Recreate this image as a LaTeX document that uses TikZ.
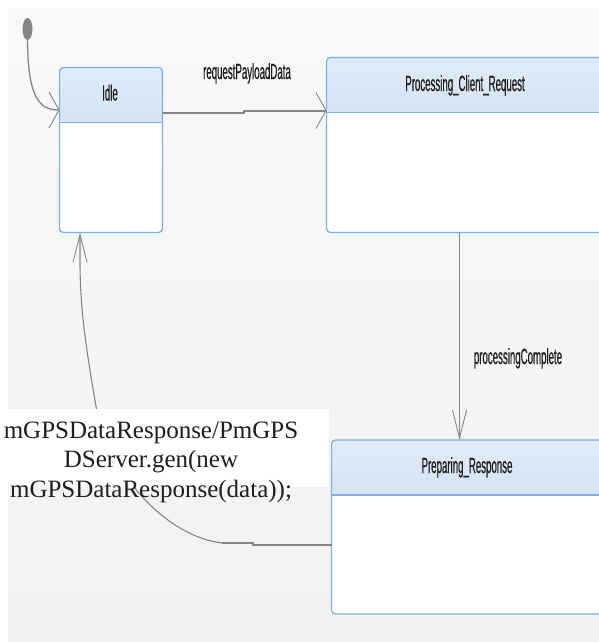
\documentclass[tikz,border=0pt]{standalone}
\usepackage{fontspec}
\setmainfont{Liberation Serif}
\newfontfamily\uifont[FakeStretch=0.44,FakeBold=0.5]{Liberation Sans}
\usetikzlibrary{arrows.meta,shapes.geometric,calc}
\definecolor{canvastop}{HTML}{F8F8F8}
\definecolor{canvasbot}{HTML}{F1F2F2}
\definecolor{boxline}{HTML}{7EB0E4}
\definecolor{hdtop}{HTML}{E0EBF8}
\definecolor{hdbot}{HTML}{BCD2EB}
\definecolor{wirecol}{HTML}{858585}
\definecolor{ink}{HTML}{1E1E1E}
\begin{document}
\begin{tikzpicture}[x=1pt,y=-1pt,
  statebox/.style={draw=boxline, line width=1.3pt, fill=white, rounded corners=4pt,
    anchor=north west, inner sep=0pt, outer sep=0pt,
    path picture={
      \shade[top color=hdtop,bottom color=hdbot]
        (path picture bounding box.north west) rectangle
        ([yshift=-55pt]path picture bounding box.north east);
      \draw[boxline, line width=1.6pt]
        ([yshift=-55pt]path picture bounding box.north west) --
        ([yshift=-55pt]path picture bounding box.north east);}},
  statename/.style={font=\uifont\fontsize{22}{24}\selectfont, text=ink, inner sep=0pt, anchor=base},
  translabel/.style={font=\uifont\fontsize{22}{24}\selectfont, text=ink, inner sep=0pt, anchor=base},
  conn/.style={draw=wirecol},
  widetip/.style={-{Straight Barb[length=10pt,width=36pt,line width=0.9pt]}},
  narrowtip/.style={-{Straight Barb[length=28pt,width=14pt,line width=0.9pt]}}
]
\clip (0,0) rectangle (599,642);
\useasboundingbox (0,0) rectangle (599,642);
% canvas
\fill[white] (0,0) rectangle (599,642);
\shade[top color=canvastop,bottom color=canvasbot] (8,9) rectangle (610,650);

% states
\node[statebox, minimum width=103pt, minimum height=165pt] (idle) at (59.5,67.5) {};
\node[statebox, minimum width=277pt, minimum height=175pt] (pcr) at (326.5,57.5) {};
\node[statebox, minimum width=271pt, minimum height=174pt] (prep) at (331.5,440) {};

\node[statename] (idleT) at (110,100.5) {Idle};
\node[statename] (pcrT) at (465,91) {Processing\_Client\_Request};
\node[statename] (prepT) at (467,473) {Preparing\_Response};

% initial pseudo-state
\node[ellipse, fill=wirecol, minimum width=10pt, minimum height=22pt, inner sep=0pt] (init) at (27.5,29) {};

% transitions
\draw[conn, line width=1.3pt, widetip] (init.south) .. controls (28,95) and (38,110) .. ($(idle.north west)+(0,42.5)$);

\draw[conn, line width=2pt, widetip] ($(idle.north east)+(0,45)$) -- (244,112.5) -- (244,110.5) -- ($(pcr.north west)+(0,53)$);
\node[translabel] (reqL) at (247,79) {requestPayloadData};

\draw[conn, line width=1pt, narrowtip] ($(pcr.south west)+(133,0)$) -- ($(prep.north west)+(128,0)$);
\node[translabel] (procL) at (518,364) {processingComplete};

\draw[conn, line width=1.1pt, narrowtip] ($(prep.north west)+(0,105)$) -- (253,545) -- (253,543) -- (222,543)
  .. controls (180,538) and (130,500) .. (100,430)
  .. controls (90,370) and (80,320) .. (80,262) -- ($(idle.south west)+(20.5,0)$);
\draw[conn, line width=2pt] ($(prep.north west)+(0,105)$) -- (253,545) -- (253,543) -- (222,543);

% guard / action label
\fill[white] (0,409) rectangle (329,486.5);
\node[font=\fontsize{25}{29.5}\selectfont, text=ink, align=center, inner sep=0pt] (guard) at (151,462)
  {mGPSDataResponse/PmGPS\\DServer.gen(new\\mGPSDataResponse(data));};
\end{tikzpicture}
\end{document}
